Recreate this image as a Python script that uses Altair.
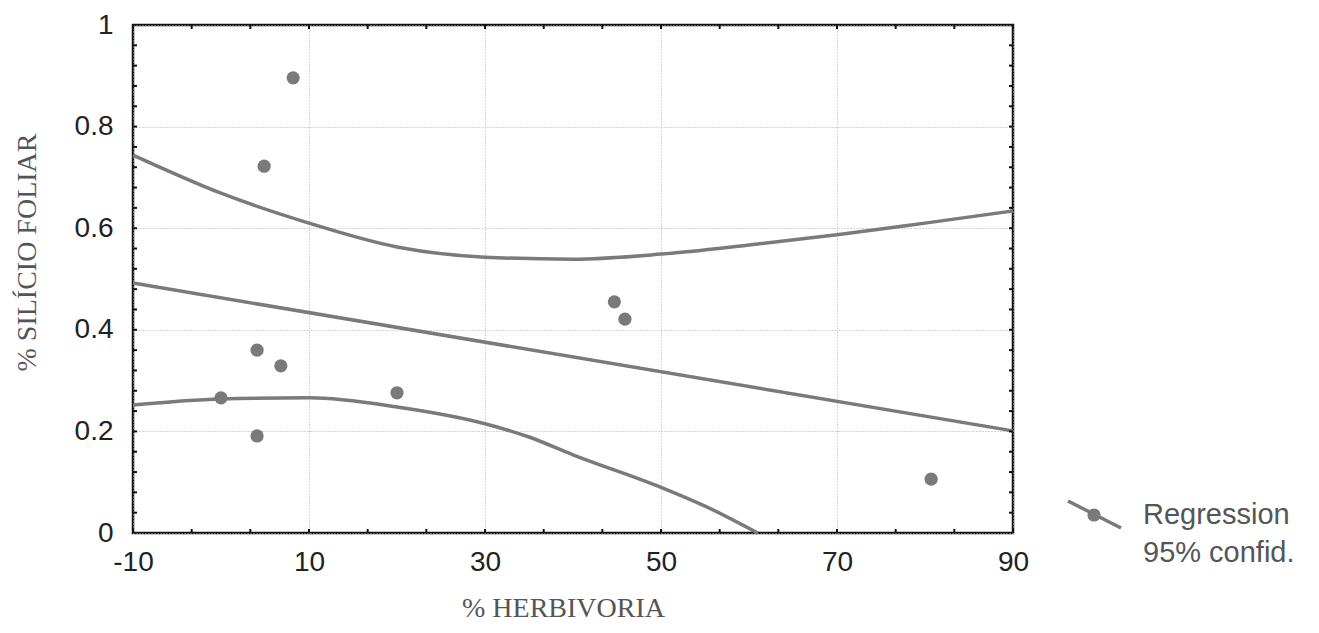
import altair as alt
import pandas as pd

# Observed points
herb = [8.2, 4.9, 0.0, 4.1, 4.1, 6.8, 20.0, 44.7, 45.9, 80.7]
sil = [0.896, 0.722, 0.266, 0.360, 0.191, 0.329, 0.276, 0.455, 0.421, 0.106]

# Regression line
reg_x = [-10, 90]
reg_y = [0.492, 0.201]

# 95% confidence curves
up_x = [-10, 0, 10, 20, 30, 40, 50, 60, 70, 80, 90]
up_y = [0.744, 0.669, 0.610, 0.563, 0.543, 0.539, 0.549, 0.567, 0.587, 0.610, 0.634]
lo_x = [-10, 0, 10, 20, 30, 35, 40, 50, 55, 61]
lo_y = [0.252, 0.264, 0.266, 0.248, 0.215, 0.189, 0.154, 0.090, 0.053, 0.0]

# Axis tick values
x_labels = [-10, 10, 30, 50, 70, 90]
x_minor = [-10, -3.333, 3.333, 10, 16.667, 23.333, 30, 36.667, 43.333, 50,
           56.667, 63.333, 70, 76.667, 83.333, 90]
y_labels = [0, 0.2, 0.4, 0.6, 0.8, 1]
y_minor = [0.04, 0.08, 0.12, 0.16, 0.2, 0.24, 0.28, 0.32, 0.36, 0.4, 0.44, 0.48,
           0.52, 0.56, 0.6, 0.64, 0.68, 0.72, 0.76, 0.8, 0.84, 0.88, 0.92, 0.96]

W, H = 880, 508
GRAY = "#7a7a7a"

xs = alt.Scale(domain=[-10, 90], nice=False, zero=False)
ys = alt.Scale(domain=[0, 1], nice=False, zero=False)

pts = pd.DataFrame({"x": herb, "y": sil})
reg = pd.DataFrame({"x": reg_x, "y": reg_y})
up = pd.DataFrame({"x": up_x, "y": up_y})
lo = pd.DataFrame({"x": lo_x, "y": lo_y})

xaxis = alt.Axis(values=x_labels, labelExpr="toString(datum.value)", title="% HERBIVORIA")
yaxis = alt.Axis(values=y_labels,
                 labelExpr="datum.value == 1 ? '1' : datum.value == 0 ? '0' : format(datum.value, '.1f')",
                 title="% SILÍCIO FOLIAR")

X = alt.X("x:Q", scale=xs, axis=xaxis)
Y = alt.Y("y:Q", scale=ys, axis=yaxis)

def line(df):
    return alt.Chart(df).mark_line(color=GRAY, strokeWidth=3.5, interpolate="monotone").encode(x=X, y=Y)

points = alt.Chart(pts).mark_circle(color=GRAY, size=175, opacity=1).encode(x=X, y=Y)

xt = pd.DataFrame({"x": x_minor})
yt = pd.DataFrame({"y": y_minor})
tick_bot = alt.Chart(xt).mark_rule(color="#111", strokeWidth=2).encode(
    x=X, y=alt.value(H), y2=alt.value(H - 4))
tick_top = alt.Chart(xt).mark_rule(color="#111", strokeWidth=2).encode(
    x=X, y=alt.value(0), y2=alt.value(4))
tick_left = alt.Chart(yt).mark_rule(color="#111", strokeWidth=2).encode(
    y=Y, x=alt.value(0), x2=alt.value(4))
tick_right = alt.Chart(yt).mark_rule(color="#111", strokeWidth=2).encode(
    y=Y, x=alt.value(W), x2=alt.value(W - 4))

# Legend
leg_line = alt.Chart(pd.DataFrame({"a": [0]})).mark_rule(color=GRAY, strokeWidth=3.5).encode(
    x=alt.value(935), y=alt.value(476), x2=alt.value(988), y2=alt.value(503))
leg_dot = alt.Chart(pd.DataFrame({"a": [0]})).mark_circle(color=GRAY, size=175, opacity=1).encode(
    x=alt.value(961), y=alt.value(490))
leg_txt = alt.Chart(pd.DataFrame({"t": ["Regression", "95% confid."], "yy": [490, 528]})).mark_text(
    align="left", baseline="middle", font="Liberation Sans", fontSize=29, color="#555").encode(
    text="t:N", x=alt.value(1010), y=alt.Y("yy:Q", scale=None))

chart = alt.layer(
    line(up), line(lo), line(reg), points,
    tick_bot, tick_top, tick_left, tick_right,
    leg_line, leg_dot, leg_txt,
).properties(
    width=W, height=H,
    autosize=alt.AutoSizeParams(type="none"),
    padding={"left": 125, "top": 17, "right": 298, "bottom": 92},
    background="white",
).configure_view(
    stroke="#111", strokeWidth=2.5
).configure_axis(
    gridColor="#aaa", gridDash=[1, 2], gridWidth=1, domain=False, ticks=False,
    labelFont="Liberation Sans", labelFontSize=28, labelColor="#222", labelFlush=False,
    titleFont="Liberation Serif", titleFontSize=28, titleFontWeight="normal", titleColor="#555",
).configure_axisX(
    labelPadding=15, titleX=430, titleY=83, titleAnchor="start", titleAlign="center",
    titleBaseline="alphabetic",
).configure_axisY(
    labelPadding=20, titleX=-106, titleY=227, titleAngle=-90, titleAnchor="start",
    titleAlign="center", titleBaseline="middle",
)

chart.save("out.html", embed_options={"renderer": "svg", "actions": False})
